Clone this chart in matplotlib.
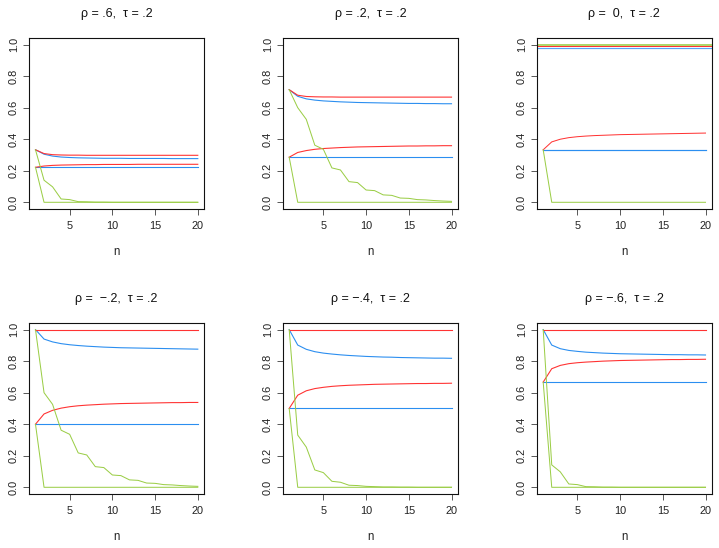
import matplotlib
matplotlib.use("Agg")
import matplotlib.pyplot as plt
import numpy as np

plt.rcParams['font.family'] = ['Liberation Sans', 'DejaVu Sans']

n = list(range(1, 21))

titles = ["ρ = .6,  τ = .2", "ρ = .2,  τ = .2", "ρ =  0,  τ = .2",
          "ρ =  −.2,  τ = .2", "ρ = −.4,  τ = .2", "ρ = −.6,  τ = .2"]

# ---- panel 1: rho = .6
p1_red_up = [0.333, 0.309, 0.302, 0.300, 0.299, 0.299, 0.298, 0.298, 0.298, 0.298,
             0.298, 0.298, 0.298, 0.298, 0.298, 0.298, 0.298, 0.298, 0.298, 0.298]
p1_blue_up = [0.333, 0.305, 0.293, 0.287, 0.284, 0.282, 0.281, 0.280, 0.279, 0.279,
              0.279, 0.278, 0.278, 0.278, 0.278, 0.278, 0.277, 0.277, 0.277, 0.277]
p1_red_lo = [0.222, 0.230, 0.234, 0.236, 0.237, 0.238, 0.239, 0.239, 0.240, 0.240,
             0.240, 0.240, 0.241, 0.241, 0.241, 0.241, 0.241, 0.241, 0.241, 0.241]
p1_blue_lo = [0.222] * 20
p1_green_a = [0.333, 0.140, 0.098, 0.021, 0.017, 0.004, 0.003, 0.001, 0.001, 0.0,
              0.0, 0.0, 0.0, 0.0, 0.0, 0.0, 0.0, 0.0, 0.0, 0.0]
p1_green_b = [0.222] + [0.0] * 19

# ---- panel 2: rho = .2
p2_red_up = [0.714, 0.679, 0.671, 0.669, 0.668, 0.668, 0.667, 0.667, 0.667, 0.667,
             0.667, 0.667, 0.667, 0.667, 0.667, 0.667, 0.667, 0.667, 0.667, 0.667]
p2_blue_up = [0.714, 0.672, 0.656, 0.648, 0.643, 0.640, 0.637, 0.635, 0.633, 0.632,
              0.631, 0.630, 0.629, 0.628, 0.627, 0.627, 0.626, 0.626, 0.625, 0.625]
p2_red_lo = [0.286, 0.316, 0.328, 0.336, 0.341, 0.344, 0.347, 0.349, 0.351, 0.352,
             0.353, 0.354, 0.355, 0.356, 0.357, 0.357, 0.358, 0.358, 0.359, 0.359]
p2_blue_lo = [0.286] * 20
p2_green_a = [0.714, 0.600, 0.526, 0.362, 0.336, 0.218, 0.205, 0.131, 0.125, 0.078,
              0.074, 0.047, 0.044, 0.027, 0.025, 0.017, 0.015, 0.011, 0.008, 0.006]
p2_green_b = [0.286] + [0.0] * 19

# ---- panel 3: rho = 0
p3_red_up = [0.988] * 20
p3_blue_up = [0.978] * 20
p3_red_lo = [0.333, 0.383, 0.400, 0.410, 0.416, 0.420, 0.423, 0.425, 0.427, 0.429,
             0.430, 0.431, 0.432, 0.433, 0.434, 0.435, 0.436, 0.437, 0.438, 0.439]
p3_blue_lo = [0.333] * 20
p3_green_a = [1.0] * 20
p3_green_b = [0.333] + [0.0] * 19

# ---- panel 4: rho = -.2
p4_red_up = [1.0] * 20
p4_blue_up = [1.0, 0.940, 0.922, 0.911, 0.904, 0.899, 0.895, 0.892, 0.889, 0.887,
              0.885, 0.884, 0.883, 0.882, 0.881, 0.880, 0.879, 0.878, 0.877, 0.876]
p4_red_lo = [0.400, 0.465, 0.488, 0.502, 0.511, 0.517, 0.521, 0.524, 0.527, 0.529,
             0.531, 0.532, 0.533, 0.534, 0.535, 0.536, 0.537, 0.537, 0.538, 0.538]
p4_blue_lo = [0.400] * 20
p4_green_a = [1.0, 0.600, 0.526, 0.362, 0.336, 0.218, 0.205, 0.131, 0.125, 0.078,
              0.074, 0.047, 0.044, 0.027, 0.025, 0.017, 0.015, 0.011, 0.008, 0.006]
p4_green_b = [0.400] + [0.0] * 19

# ---- panel 5: rho = -.4
p5_red_up = [1.0] * 20
p5_blue_up = [1.0, 0.902, 0.875, 0.860, 0.851, 0.845, 0.840, 0.836, 0.833, 0.830,
              0.828, 0.826, 0.825, 0.823, 0.822, 0.821, 0.820, 0.819, 0.819, 0.818]
p5_red_lo = [0.500, 0.584, 0.612, 0.626, 0.634, 0.640, 0.644, 0.647, 0.649, 0.651,
             0.653, 0.654, 0.655, 0.656, 0.657, 0.658, 0.658, 0.659, 0.659, 0.660]
p5_blue_lo = [0.500] * 20
p5_green_a = [1.0, 0.331, 0.255, 0.110, 0.093, 0.038, 0.032, 0.013, 0.011, 0.006,
              0.004, 0.002, 0.002, 0.001, 0.001, 0.0, 0.0, 0.0, 0.0, 0.0]
p5_green_b = [0.500] + [0.0] * 19

# ---- panel 6: rho = -.6
p6_red_up = [1.0] * 20
p6_blue_up = [1.0, 0.902, 0.879, 0.868, 0.862, 0.857, 0.854, 0.851, 0.849, 0.847,
              0.846, 0.845, 0.844, 0.843, 0.842, 0.841, 0.841, 0.840, 0.840, 0.839]
p6_red_lo = [0.667, 0.752, 0.773, 0.784, 0.790, 0.794, 0.797, 0.800, 0.802, 0.804,
             0.805, 0.806, 0.807, 0.808, 0.809, 0.810, 0.810, 0.811, 0.811, 0.812]
p6_blue_lo = [0.667] * 20
p6_green_a = [1.0, 0.142, 0.098, 0.021, 0.017, 0.004, 0.003, 0.001, 0.001, 0.0,
              0.0, 0.0, 0.0, 0.0, 0.0, 0.0, 0.0, 0.0, 0.0, 0.0]
p6_green_b = [0.667] + [0.0] * 19

panels = [
    (p1_red_up, p1_blue_up, p1_red_lo, p1_blue_lo, p1_green_a, p1_green_b),
    (p2_red_up, p2_blue_up, p2_red_lo, p2_blue_lo, p2_green_a, p2_green_b),
    (p3_red_up, p3_blue_up, p3_red_lo, p3_blue_lo, p3_green_a, p3_green_b),
    (p4_red_up, p4_blue_up, p4_red_lo, p4_blue_lo, p4_green_a, p4_green_b),
    (p5_red_up, p5_blue_up, p5_red_lo, p5_blue_lo, p5_green_a, p5_green_b),
    (p6_red_up, p6_blue_up, p6_red_lo, p6_blue_lo, p6_green_a, p6_green_b),
]

RED = "#FF3333"
BLUE = "#2B8EF0"
GREEN = "#9ACD45"

W, H = 719, 548
fig = plt.figure(figsize=(W / 72, H / 72), dpi=72)

lefts = [29.0, 282.7, 536.7]
tops = [38.3, 323.3]
bw, bh = 175.3, 170.3

for i, data in enumerate(panels):
    r, c = divmod(i, 3)
    l, t = lefts[c], tops[r]
    ax = fig.add_axes([l / W, 1 - (t + bh) / H, bw / W, bh / H])
    red_up, blue_up, red_lo, blue_lo, green_a, green_b = data
    if i == 2:
        # full-width horizontal lines at the top of this panel
        ax.axhline(green_a[0], color=GREEN, lw=2.0, alpha=0.8)
        ax.axhline(red_up[0], color=RED, lw=1.0)
        ax.axhline(blue_up[0], color=BLUE, lw=1.2, alpha=0.8)
        ax.plot(n, blue_lo, color=BLUE, lw=1.2)
        ax.plot(n, red_lo, color=RED, lw=1.0)
        ax.plot(n, green_b, color=GREEN, lw=1.0)
    else:
        ax.plot(n, blue_up, color=BLUE, lw=1.1)
        ax.plot(n, blue_lo, color=BLUE, lw=1.1)
        ax.plot(n, red_up, color=RED, lw=1.1)
        ax.plot(n, red_lo, color=RED, lw=1.1)
        ax.plot(n, green_a, color=GREEN, lw=1.0)
        ax.plot(n, green_b, color=GREEN, lw=1.0)
    ax.set_xlim(0.24, 20.76)
    ax.set_ylim(-0.04, 1.04)
    ax.set_xticks([5, 10, 15, 20])
    ax.set_xticklabels(["5", "10", "15", "20"])
    ax.set_yticks([0, 0.2, 0.4, 0.6, 0.8, 1.0])
    ax.set_yticklabels(["0.0", "0.2", "0.4", "0.6", "0.8", "1.0"],
                       rotation=90, va="center")
    ax.tick_params(axis="both", direction="out", length=6, width=0.8,
                   labelsize=11, colors="#333333", labelcolor="#222222")
    ax.tick_params(axis="y", pad=4)
    ax.tick_params(axis="x", pad=6)
    for s in ax.spines.values():
        s.set_linewidth(1.1)
        s.set_color("#111111")
    cx = (l + bw / 2) / W
    fig.text(cx, 1 - (t - 24) / H, titles[i], ha="center", va="center",
             fontsize=12.5, color="#111111")
    fig.text(cx, 1 - (t + 214) / H, "n", ha="center", va="center",
             fontsize=11.5, color="#222222")

fig.savefig("out.png", dpi=72)
